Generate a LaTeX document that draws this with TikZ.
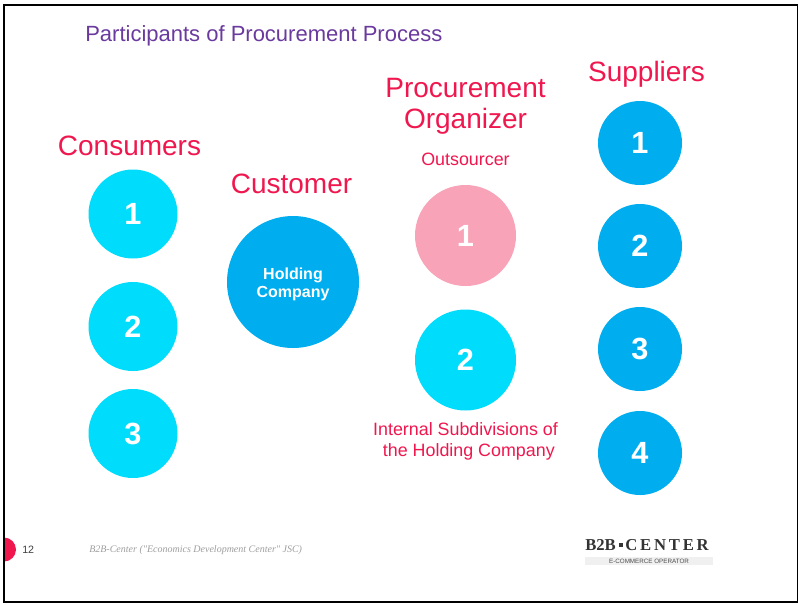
\documentclass[tikz,border=0pt]{standalone}
\usepackage{fontspec}
\setmainfont{Liberation Sans}
\newfontfamily\serifit{Liberation Serif}
\definecolor{crimson}{HTML}{F0174F}
\definecolor{cyanc}{HTML}{00DCFB}
\definecolor{bluec}{HTML}{00AEEF}
\definecolor{pinkc}{HTML}{F8A3B8}
\definecolor{titlec}{HTML}{6A3A9E}
\tikzset{
  px/.style={x=0.75pt,y=-0.75pt},
  numc/.style={circle,inner sep=0pt,text=white,font=\fontsize{23}{26}\selectfont\bfseries},
  head/.style={text=crimson,font=\fontsize{21}{23.25}\selectfont,align=center,inner sep=0pt},
  sub/.style={text=crimson,font=\fontsize{13.4}{15.75}\selectfont,align=center,inner sep=0pt},
}
\begin{document}
\begin{tikzpicture}[px]
\useasboundingbox (0,0) rectangle (798,604);
\fill[white] (0,0) rectangle (798,604);
% footer dot
\begin{scope}
\clip (4,520) rectangle (40,580);
\fill[crimson] (4,549.5) circle[radius=12];
\end{scope}
% frame
\draw[black,line width=1.5pt] (798,5) -- (4,5) -- (4,602) -- (798,602) -- cycle;
\node[anchor=base west,inner sep=0pt,text=titlec,font=\fontsize{16.5}{20}\selectfont] (title) at (85,41) {Participants of Procurement Process};
% consumers
\node[head] (consumers) at (129.5,145.5) {Consumers};
\node[numc,fill=cyanc,minimum size=66.75pt] (c1) at (133,214) {1};
\node[numc,fill=cyanc,minimum size=66.75pt] (c2) at (133,326.5) {2};
\node[numc,fill=cyanc,minimum size=66.75pt] (c3) at (133,433.5) {3};
% customer
\node[head] (customer) at (291.5,183.5) {Customer};
\node[circle,inner sep=0pt,fill=bluec,minimum size=99pt] (hold) at (293,282) {};
\node[inner sep=0pt,text=white,align=center,font=\fontsize{12}{13.5}\selectfont\bfseries] (holdtext) at (293,284) {Holding\\Company};
% organizer
\node[head] (org) at (465.5,106) {Procurement\\Organizer};
\node[sub] (outs) at (465.5,159.5) {Outsourcer};
\node[numc,fill=pinkc,minimum size=75.75pt] (o1) at (465.5,235.5) {1};
\node[numc,fill=cyanc,minimum size=75.75pt] (o2) at (465.5,360) {2};
\node[sub] (internal) at (465.5,441) {Internal Subdivisions of\\\hspace*{5pt}the Holding Company};
% suppliers
\node[head] (supp) at (646.5,74) {Suppliers};
\node[numc,fill=bluec,minimum size=63pt] (s1) at (640,143) {1};
\node[numc,fill=bluec,minimum size=63pt] (s2) at (640,246) {2};
\node[numc,fill=bluec,minimum size=63pt] (s3) at (640,349) {3};
\node[numc,fill=bluec,minimum size=63pt] (s4) at (640,453) {4};
% footer
\node[anchor=base west,inner sep=0pt,text=black!75,font=\fontsize{8}{10}\selectfont] (page) at (22,553) {12};
\node[anchor=base west,inner sep=0pt,text=black!38,font=\fontsize{7.5}{9}\serifit\itshape] (foot) at (89,552.5) {B2B-Center ("Economics Development Center" JSC)};
% logo
\fill[black!6] (585,557) rectangle (713,565);
\node[anchor=base west,inner sep=0pt,text=black!80,font=\fontsize{12.5}{14}\serifit\bfseries] (logo) at (585,550.5) {B2B\,\raisebox{2.5pt}{\rule{3pt}{3pt}}\,C\,E\,N\,T\,E\,R\kern1pt};
\node[inner sep=0pt,text=black!70,font=\fontsize{4.7}{5}\selectfont] (logosub) at (649,561.5) {E-COMMERCE OPERATOR};
\end{tikzpicture}
\end{document}
